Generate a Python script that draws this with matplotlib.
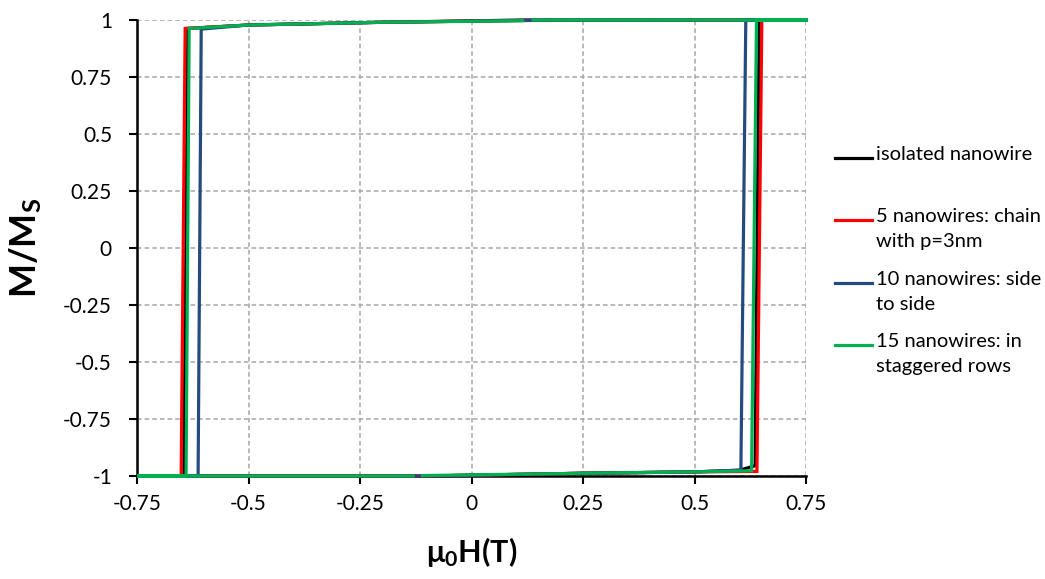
import matplotlib.pyplot as plt
import numpy as np

plt.rcParams['font.family'] = ['Lato', 'DejaVu Sans']
plt.rcParams['mathtext.fontset'] = 'custom'
plt.rcParams['mathtext.bf'] = 'Lato:bold'
plt.rcParams['mathtext.rm'] = 'Lato'

# --- data: each loop = descending branch (top, right->left) then ascending branch (bottom, left->right)
iso_h = [0.75, 0.12, -0.20, -0.50, -0.636, -0.645, -0.75, -0.10, 0.25, 0.50, 0.60, 0.636, 0.645, 0.75]
iso_m = [1.0, 1.0, 0.99, 0.978, 0.963, -1.0, -1.0, -1.0, -0.988, -0.982, -0.975, -0.955, 1.0, 1.0]

chain_h = [0.75, 0.12, -0.20, -0.50, -0.642, -0.651, -0.75, -0.10, 0.25, 0.50, 0.640, 0.651, 0.75]
chain_m = [1.0, 0.998, 0.99, 0.978, 0.963, -1.0, -1.0, -1.0, -0.988, -0.982, -0.98, 1.0, 1.0]

side_h = [0.75, 0.12, -0.20, -0.50, -0.606, -0.613, -0.75, -0.10, 0.25, 0.50, 0.604, 0.615, 0.75]
side_m = [1.0, 0.998, 0.99, 0.978, 0.96, -1.0, -1.0, -1.0, -0.988, -0.982, -0.974, 1.0, 1.0]

stag_h = [0.75, 0.138, np.nan, 0.115, -0.20, -0.50, -0.633, -0.640, -0.75, -0.131, np.nan, -0.110, 0.25, 0.50, 0.628, 0.639, 0.75]
stag_m = [1.0, 1.0, np.nan, 0.997, 0.99, 0.978, 0.963, -1.0, -1.0, -1.0, np.nan, -0.998, -0.988, -0.982, -0.977, 1.0, 1.0]

labels = ['isolated nanowire', '5 nanowires: chain\nwith p=3nm',
          '10 nanowires: side\nto side', '15 nanowires: in\nstaggered rows']
colors = ['#000000', '#FF0000', '#254A7F', '#00B050']
xticks = [-0.75, -0.5, -0.25, 0, 0.25, 0.5, 0.75]
yticks = [-1, -0.75, -0.5, -0.25, 0, 0.25, 0.5, 0.75, 1]

fig = plt.figure(figsize=(10.45, 5.79), dpi=100)
ax = fig.add_axes([137 / 1045, 1 - 476 / 579, (806 - 137) / 1045, (476 - 20) / 579])

series = [(iso_h, iso_m), (chain_h, chain_m), (side_h, side_m), (stag_h, stag_m)]
for (h, m), c in zip(series, colors):
    ax.plot(h, m, color=c, lw=2.3, solid_joinstyle='miter', zorder=3, clip_on=False)

ax.set_xlim(-0.75, 0.75)
ax.set_ylim(-1, 1)
ax.set_xticks(xticks)
ax.set_xticklabels(['%g' % v for v in xticks])
ax.set_yticks(yticks)
ax.set_yticklabels(['%g' % v for v in yticks])
ax.tick_params(direction='out', length=6, width=1.5, labelsize=15)
ax.tick_params(axis='y', pad=12)
ax.tick_params(axis='x', pad=7)
ax.grid(True, color='#A6A6A6', linestyle=(0, (3, 2)), linewidth=1.1, zorder=0)
ax.spines['top'].set_visible(False)
ax.spines['right'].set_visible(False)
ax.spines['left'].set_linewidth(1.8)
ax.spines['bottom'].set_linewidth(1.8)

ax.set_xlabel(r'$\mathbf{\mu_0}$H(T)', fontsize=22, fontweight='bold', labelpad=15)
ax.set_ylabel(r'M/M$\mathbf{_S}$', fontsize=26, fontweight='bold', labelpad=14)

# --- legend drawn by hand so the line sits next to the first text row
row_y = [158, 220, 283, 345]
for c, lab, y in zip(colors, labels, row_y):
    fy = 1 - y / 579
    fig.add_artist(plt.Line2D([835 / 1045, 872 / 1045], [fy, fy], color=c, lw=2.3,
                              transform=fig.transFigure))
    fig.text(876 / 1045, 1 - (y - 12) / 579, lab, fontsize=14.5, va='top', ha='left',
             linespacing=1.6)

fig.savefig('out.png', dpi=100)
